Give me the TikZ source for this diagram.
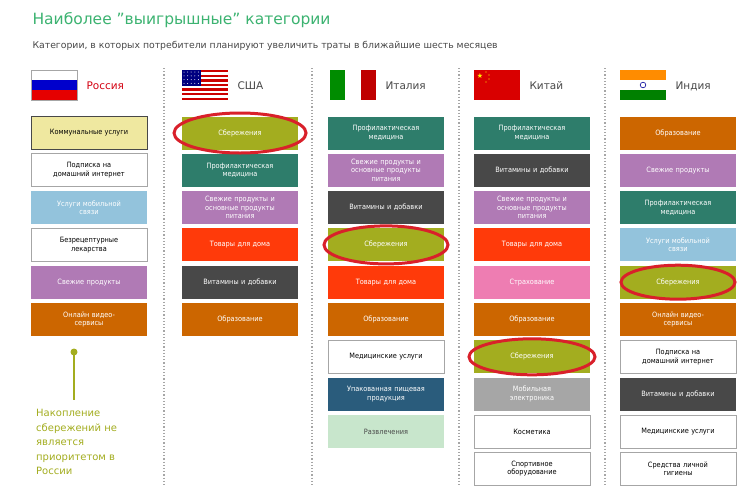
\documentclass[tikz,border=0pt]{standalone}
\usepackage{fontspec}
\setmainfont{DejaVu Sans}
\newfontfamily\condf{DejaVu Sans Condensed}
\definecolor{sav}{HTML}{A3AD1F}
\definecolor{teal}{HTML}{2E7D6B}
\definecolor{purp}{HTML}{B07AB5}
\definecolor{redo}{HTML}{FF3A0A}
\definecolor{dgray}{HTML}{484848}
\definecolor{oran}{HTML}{CC6600}
\definecolor{lblue}{HTML}{93C3DC}
\definecolor{lyel}{HTML}{EFE8A0}
\definecolor{pink}{HTML}{EE7DB2}
\definecolor{mgray}{HTML}{A6A6A6}
\definecolor{dblue}{HTML}{2A5C7C}
\definecolor{lgreen}{HTML}{C8E6CC}
\definecolor{ttl}{HTML}{3CB371}
\definecolor{ellred}{HTML}{D9202A}
\tikzset{
 cat/.style={minimum width=116pt,minimum height=33pt,inner sep=1pt,text width=112pt,align=center,font=\condf\fontsize{7.3}{8.6}\selectfont,text=white},
 wbox/.style={cat,draw=mgray,line width=0.8pt,text=black,fill=white},
 mark/.style={draw=ellred,line width=3pt,ellipse},
 sep/.style={draw=mgray,dotted,line width=1.2pt},
 cname/.style={anchor=west,font=\fontsize{10.5}{12}\selectfont}
}
\newcommand{\cb}[5]{\node[cat,fill=#4,#5] (#1) at (#2,{-(133+37.3*(#3-1))}) {#1x};}
\begin{document}
\begin{tikzpicture}[x=1pt,y=1pt]
\useasboundingbox (0,0) rectangle (752,-485);
\fill[white] (0,0) rectangle (752,-485);
\node[anchor=west,text=ttl,font=\fontsize{15.5}{18}\selectfont] (title) at (29,-20) {Наиболее "выигрышные" категории};
\node[anchor=west,text=dgray,font=\fontsize{9.3}{11}\selectfont] (sub) at (29,-46) {Категории, в которых потребители планируют увеличить траты в ближайшие шесть месяцев};
\foreach \x in {164,312,459,605} \draw[sep] (\x,-68) -- (\x,-485);
% flags
\fill[white] (31,-70) rectangle (77,-80); \fill[blue!80!black] (31,-80) rectangle (77,-90); \fill[red!90!black] (31,-90) rectangle (77,-100);
\draw[mgray,line width=0.4pt] (31,-70) rectangle (77,-100);
\node[cname,text=red!70!purple!90!black] (ru) at (83,-86) {Россия};
\foreach \i in {0,...,12}{\fill[{\ifodd\i white\else red!80!black\fi}] (182,{-70-\i*30/13}) rectangle (228,{-70-(\i+1)*30/13});}
\fill[blue!50!black] (182,-70) rectangle (201,-86);
\foreach \i in {0,...,4}\foreach \j in {0,...,3}\fill[white] ({184+\i*3.6},{-72-\j*3.8}) circle (0.5);
\node[cname,text=dgray] (us) at (234,-86) {США};
\fill[green!55!black] (330,-70) rectangle (345,-100); \fill[white] (345,-70) rectangle (361,-100); \fill[red!75!black] (361,-70) rectangle (376,-100);
\node[cname,text=dgray] (it) at (382,-86) {Италия};
\fill[red!85!black] (474,-70) rectangle (520,-100);
\node[text=yellow,font=\scriptsize,inner sep=0] (star) at (480,-76) {★};
\foreach \p in {(486,-72),(489,-75),(489,-79),(486,-82)} \fill[yellow] \p circle (0.7);
\node[cname,text=dgray] (cn) at (526,-86) {Китай};
\fill[orange!90!yellow] (620,-70) rectangle (666,-80); \fill[white] (620,-80) rectangle (666,-90); \fill[green!50!black] (620,-90) rectangle (666,-100);
\draw[blue!60!black,line width=0.6pt] (643,-85) circle (2.8);
\node[cname,text=dgray] (in) at (672,-86) {Индия};
% Russia
\def\R#1{(-(133+37.3*(#1-1)))}
\node[cat,fill=lyel,draw=dgray,line width=0.8pt,text=black] (r1) at (89,{-133}) {Коммунальные услуги};
\node[wbox] (r2) at (89,{-170.3}) {Подписка на\\домашний интернет};
\node[cat,fill=lblue] (r3) at (89,{-207.6}) {Услуги мобильной\\связи};
\node[wbox] (r4) at (89,{-244.9}) {Безрецептурные\\лекарства};
\node[cat,fill=purp] (r5) at (89,{-282.2}) {Свежие продукты};
\node[cat,fill=oran] (r6) at (89,{-319.5}) {Онлайн видео-\\сервисы};
\fill[sav] (74,-352) circle (3.5);
\coordinate (dot) at (74,-352); \coordinate (lend) at (74,-400);
\draw[sav,line width=1.2pt] (dot) -- (lend);
\node[anchor=north west,text=sav,align=left,font=\fontsize{10}{14.6}\selectfont,inner sep=0] (note) at (36,-409) {Накопление\\сбережений не\\является\\приоритетом в\\России};
% USA
\node[cat,fill=sav] (u1) at (240,-133) {Сбережения};
\node[cat,fill=teal] (u2) at (240,-170.3) {Профилактическая\\медицина};
\node[cat,fill=purp] (u3) at (240,-207.6) {Свежие продукты и\\основные продукты\\питания};
\node[cat,fill=redo] (u4) at (240,-244.9) {Товары для дома};
\node[cat,fill=dgray] (u5) at (240,-282.2) {Витамины и добавки};
\node[cat,fill=oran] (u6) at (240,-319.5) {Образование};
% Italy
\node[cat,fill=teal] (i1) at (386,-133) {Профилактическая\\медицина};
\node[cat,fill=purp] (i2) at (386,-170.3) {Свежие продукты и\\основные продукты\\питания};
\node[cat,fill=dgray] (i3) at (386,-207.6) {Витамины и добавки};
\node[cat,fill=sav] (i4) at (386,-244.9) {Сбережения};
\node[cat,fill=redo] (i5) at (386,-282.2) {Товары для дома};
\node[cat,fill=oran] (i6) at (386,-319.5) {Образование};
\node[wbox] (i7) at (386,-356.8) {Медицинские услуги};
\node[cat,fill=dblue] (i8) at (386,-394.1) {Упакованная пищевая\\продукция};
\node[cat,fill=lgreen,text=dgray] (i9) at (386,-431.4) {Развлечения};
% China
\node[cat,fill=teal] (c1) at (532,-133) {Профилактическая\\медицина};
\node[cat,fill=dgray] (c2) at (532,-170.3) {Витамины и добавки};
\node[cat,fill=purp] (c3) at (532,-207.6) {Свежие продукты и\\основные продукты\\питания};
\node[cat,fill=redo] (c4) at (532,-244.9) {Товары для дома};
\node[cat,fill=pink] (c5) at (532,-282.2) {Страхование};
\node[cat,fill=oran] (c6) at (532,-319.5) {Образование};
\node[cat,fill=sav] (c7) at (532,-356.8) {Сбережения};
\node[cat,fill=mgray] (c8) at (532,-394.1) {Мобильная\\электроника};
\node[wbox] (c9) at (532,-431.4) {Косметика};
\node[wbox] (c10) at (532,-468.7) {Спортивное\\оборудование};
% India
\node[cat,fill=oran] (n1) at (678,-133) {Образование};
\node[cat,fill=purp] (n2) at (678,-170.3) {Свежие продукты};
\node[cat,fill=teal] (n3) at (678,-207.6) {Профилактическая\\медицина};
\node[cat,fill=lblue] (n4) at (678,-244.9) {Услуги мобильной\\связи};
\node[cat,fill=sav] (n5) at (678,-282.2) {Сбережения};
\node[cat,fill=oran] (n6) at (678,-319.5) {Онлайн видео-\\сервисы};
\node[wbox] (n7) at (678,-356.8) {Подписка на\\домашний интернет};
\node[cat,fill=dgray] (n8) at (678,-394.1) {Витамины и добавки};
\node[wbox] (n9) at (678,-431.4) {Медицинские услуги};
\node[wbox] (n10) at (678,-468.7) {Средства личной\\гигиены};
% highlight ellipses
\draw[ellred,line width=3pt] (u1.center) ellipse (66pt and 20pt);
\draw[ellred,line width=3pt] (i4.center) ellipse (62pt and 19pt);
\draw[ellred,line width=3pt] (c7.center) ellipse (63pt and 18pt);
\draw[ellred,line width=3pt] (n5.center) ellipse (57pt and 17pt);
\end{tikzpicture}
\end{document}
